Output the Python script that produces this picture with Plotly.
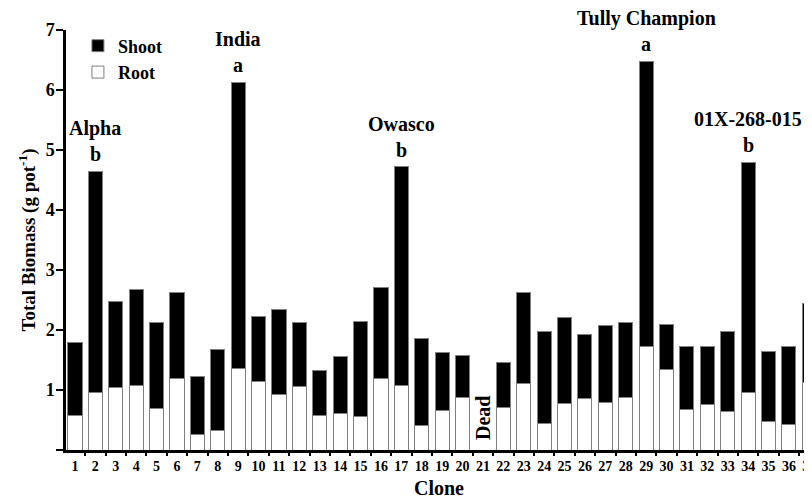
import plotly.graph_objects as go

clones = [str(i) for i in range(1, 38)]
root = [0.57, 0.96, 1.05, 1.08, 0.70, 1.19, 0.26, 0.32, 1.36, 1.15,
        0.93, 1.06, 0.58, 0.61, 0.56, 1.20, 1.07, 0.41, 0.66, 0.88,
        0.00, 0.71, 1.11, 0.44, 0.77, 0.86, 0.80, 0.87, 1.72, 1.34,
        0.67, 0.76, 0.65, 0.96, 0.47, 0.42, 1.12]
shoot = [1.22, 3.69, 1.43, 1.59, 1.43, 1.43, 0.97, 1.36, 4.77, 1.08,
         1.41, 1.07, 0.74, 0.95, 1.59, 1.51, 3.65, 1.45, 0.97, 0.69,
         0.00, 0.75, 1.51, 1.54, 1.44, 1.06, 1.27, 1.26, 4.76, 0.76,
         1.06, 0.97, 1.32, 3.84, 1.18, 1.31, 1.33]

named_clones = ["2", "9", "17", "29", "34"]
named_labels = ["Alpha", "India", "Owasco", "Tully Champion", "01X-268-015"]
named_letters = ["b", "a", "b", "a", "b"]
dead_clone = "21"

y_ticks = [0, 1, 2, 3, 4, 5, 6, 7]
y_ticktext = ["", "1", "2", "3", "4", "5", "6", "7"]

FONT = "Liberation Serif"

fig = go.Figure()
fig.add_trace(go.Bar(x=clones, y=root, name="Root",
                     marker=dict(color="white", line=dict(color="#808080", width=1))))
fig.add_trace(go.Bar(x=clones, y=shoot, name="Shoot",
                     marker=dict(color="black", line=dict(color="#808080", width=1))))

annotations = []
for c, lab, let in zip(named_clones, named_labels, named_letters):
    i = clones.index(c)
    tot = root[i] + shoot[i]
    annotations.append(dict(x=i, y=tot, xref="x", yref="y", text=let,
                            showarrow=False, yanchor="middle", yshift=17,
                            font=dict(family=FONT, size=20, color="black", weight="bold")))
    annotations.append(dict(x=i, y=tot, xref="x", yref="y", text=lab,
                            showarrow=False, yanchor="middle", yshift=43,
                            font=dict(family=FONT, size=20, color="black", weight="bold")))
annotations.append(dict(x=clones.index(dead_clone), y=0, xref="x", yref="y", text="Dead",
                        showarrow=False, yanchor="bottom", yshift=8, textangle=-90,
                        font=dict(family=FONT, size=20, color="black", weight="bold")))

# the page body adds an 8px offset, so the figure is sized to the visible area
fig.update_layout(
    width=804, height=493,
    margin=dict(l=58, r=0, t=22, b=51),
    plot_bgcolor="white", paper_bgcolor="white",
    barmode="stack", bargap=0.31,
    font=dict(family=FONT, color="black"),
    showlegend=True,
    legend=dict(x=0.016, y=1.006, xanchor="left", yanchor="top",
                traceorder="reversed", bgcolor="rgba(0,0,0,0)",
                font=dict(family=FONT, size=18, color="black", weight="bold"),
                itemwidth=30, tracegroupgap=0),
    annotations=annotations,
    xaxis=dict(type="category", range=[-0.44, 36.13], automargin=False,
               showline=True, linecolor="black", linewidth=3,
               ticks="outside", tickson="boundaries", ticklen=3, tickwidth=2, tickcolor="black",
               tickangle=0, ticklabelstandoff=1,
               tickfont=dict(family=FONT, size=14, color="black", weight="bold"),
               title=dict(text="Clone", standoff=9,
                          font=dict(family=FONT, size=20, color="black", weight="bold")),
               showgrid=False, zeroline=False),
    yaxis=dict(range=[0, 7], tickvals=y_ticks, ticktext=y_ticktext, automargin=False,
               showline=True, linecolor="black", linewidth=2.5,
               ticks="outside", ticklen=7, tickwidth=2, tickcolor="black",
               ticklabelstandoff=-2,
               tickfont=dict(family=FONT, size=18, color="black", weight="bold"),
               title=dict(text="Total Biomass (g pot<sup>-1</sup>)", standoff=6,
                          font=dict(family=FONT, size=19, color="black", weight="bold")),
               showgrid=False, zeroline=False),
)

fig.write_html("out.html")
